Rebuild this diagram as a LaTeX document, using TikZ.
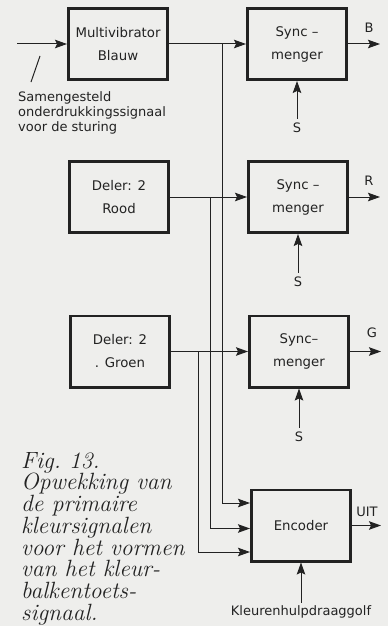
\documentclass[tikz,border=0pt]{standalone}
\usepackage{fontspec}
\newfontfamily\dinfont{DejaVu Sans}
\usetikzlibrary{arrows.meta}
\definecolor{ink}{HTML}{222222}
\definecolor{paper}{HTML}{EEEEEC}
\tikzset{
  blok/.style={draw=ink,line width=2.6pt,minimum width=99.4pt,minimum height=71.4pt,
    align=center,text=ink,font=\dinfont\fontsize{13.3}{23}\selectfont},
  lijn/.style={draw=ink,line width=1pt},
  pijl/.style={lijn,-{Stealth[length=12pt,width=8.5pt,inset=2pt]}},
  lbl/.style={text=ink,inner sep=0pt,font=\dinfont\fontsize{13}{15}\selectfont}
}
\begin{document}
\begin{tikzpicture}[x=1pt,y=-1pt]
\fill[paper](0,0)rectangle(388,626);
\useasboundingbox(0,0)rectangle(388,626);
% blokken
\node[blok](mv)at(118,44){Multivibrator\\Blauw};
\node[blok](rood)at(119,197){Deler: 2\\Rood};
\node[blok](groen)at(120,351.5){Deler: 2\\. Groen};
\node[blok](syncb)at(297,44){Sync –\\menger};
\node[blok](syncr)at(298,197){Sync –\\menger};
\node[blok](syncg)at(299,351.5){Sync–\\menger};
\node[blok](enc)at(301,525.5){Encoder};
% ingang
\coordinate(in)at(17,44);
\draw[pijl](in)--(mv);
\draw[lijn](40,56)--(31,82);
\node[lbl,anchor=north west,align=left](uitleg)at(18,91){Samengesteld\\onderdrukkingssignaal\\voor de sturing};
% naar de syncmengers
\draw[pijl](mv)--(syncb);
\draw[pijl](rood)--(syncr);
\draw[pijl](groen)--(syncg);
% bussen naar de encoder
\coordinate(encb)at([yshift=22.5pt]enc.west);
\coordinate(encr)at([yshift=-3pt]enc.west);
\coordinate(encg)at([yshift=-26.5pt]enc.west);
\coordinate(busb)at(222,44);\coordinate(busr)at(210,197);\coordinate(busg)at(198,351.5);
\draw[pijl](busb)|-(encb);
\draw[pijl](busr)|-(encr);
\draw[pijl](busg)|-(encg);
% uitgangen
\coordinate(outb)at(380,44);\coordinate(outr)at(380,197);
\coordinate(outg)at(381,351.5);\coordinate(outenc)at(381,525.5);
\draw[pijl](syncb)--(outb);\node[lbl](labb)at(369,28){B};
\draw[pijl](syncr)--(outr);\node[lbl](labr)at(369,181){R};
\draw[pijl](syncg)--(outg);\node[lbl](labg)at(372,333){G};
\draw[pijl](enc)--(outenc);\node[lbl](labuit)at(367,512){UIT};
% S en hulpdraaggolf
\node[lbl,inner sep=4pt](sb)at(syncb|-0,128){S};
\node[lbl,inner sep=4pt](sr)at(syncr|-0,282){S};
\node[lbl,inner sep=4pt](sg)at(syncg|-0,437){S};
\node[lbl,inner sep=3pt](hulp)at(enc|-0,612){Kleurenhulpdraaggolf};
\draw[pijl](sb)--(syncb);
\draw[pijl](sr)--(syncr);
\draw[pijl](sg)--(syncg);
\draw[pijl](hulp)--(enc);
% bijschrift
\node[anchor=north west,align=left,inner sep=0pt,text=ink,font=\fontsize{23.5}{21.7}\selectfont\itshape](bijschrift)at(21,452)
  {Fig.~13.\\Opwekking van\\de primaire\\kleursignalen\\voor het vormen\\van het kleur-\\balkentoets-\\signaal.};
\end{tikzpicture}
\end{document}
